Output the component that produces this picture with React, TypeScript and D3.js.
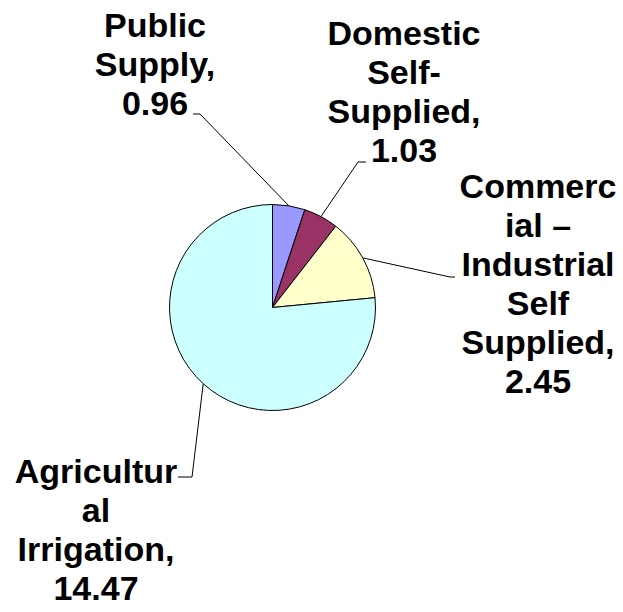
import * as d3 from 'd3'

const categories = ['Public Supply', 'Domestic Self-Supplied', 'Commercial – Industrial Self Supplied', 'Agricultural Irrigation']
const values = [0.96, 1.03, 2.45, 14.47]
// label text as it wraps in the picture (value line is added from values)
const labelLines = [
  ['Public', 'Supply,'],
  ['Domestic', 'Self-', 'Supplied,'],
  ['Commerc', 'ial –', 'Industrial', 'Self', 'Supplied,'],
  ['Agricultur', 'al', 'Irrigation,'],
]
const colors = ['#9999FF', '#993366', '#FFFFCC', '#CCFFFF']

const WIDTH = 623
const HEIGHT = 612
const CENTER = { x: 272.5, y: 307.5 }
const RADIUS = 103
const FONT_SIZE = 34
const LINE_HEIGHT = 39

// label layout: text centre, first baseline, leader bend point and tick end
const LABEL_LAYOUT = [
  { cx: 155, top: 37, bend: [200, 114], tick: [193, 114] },
  { cx: 404, top: 45, bend: [358, 162], tick: [366, 162] },
  { cx: 538, top: 198, bend: [450, 277], tick: [455, 277] },
  { cx: 96, top: 483, bend: [192, 477], tick: [178, 477] },
]

const fmt = d3.format('.2f')

export default function App() {
  const data = categories.map((name, i) => ({ name, value: values[i], i }))

  const pie = d3.pie<any>().sort(null).value((d) => d.value)
  const arcs = pie(data)
  const arc = d3.arc<any>().innerRadius(0).outerRadius(RADIUS)

  return (
    <svg
      width={WIDTH}
      height={HEIGHT}
      style={{ position: 'absolute', left: 0, top: 0, background: '#fff' }}
    >
      <g transform={`translate(${CENTER.x},${CENTER.y})`}>
        {arcs.map((a) => (
          <path
            key={a.data.name}
            d={arc(a) || ''}
            fill={colors[a.data.i]}
            stroke="#000"
            strokeWidth={1}
          />
        ))}
      </g>

      {arcs.map((a) => {
        const mid = (a.startAngle + a.endAngle) / 2
        const sx = CENTER.x + RADIUS * Math.sin(mid)
        const sy = CENTER.y - RADIUS * Math.cos(mid)
        const lay = LABEL_LAYOUT[a.data.i]
        return (
          <polyline
            key={`lead-${a.data.name}`}
            points={`${sx},${sy} ${lay.bend[0]},${lay.bend[1]} ${lay.tick[0]},${lay.tick[1]}`}
            fill="none"
            stroke="#000"
            strokeWidth={1}
          />
        )
      })}

      {data.map((d) => {
        const lay = LABEL_LAYOUT[d.i]
        const lines = [...labelLines[d.i], fmt(d.value)]
        return (
          <text
            key={`label-${d.name}`}
            textAnchor="middle"
            fontFamily="'Liberation Sans', Arial, sans-serif"
            fontWeight="bold"
            fontSize={FONT_SIZE}
            fill="#000"
          >
            {lines.map((line, j) => (
              <tspan key={j} x={lay.cx} y={lay.top + j * LINE_HEIGHT}>
                {line}
              </tspan>
            ))}
          </text>
        )
      })}
    </svg>
  )
}
